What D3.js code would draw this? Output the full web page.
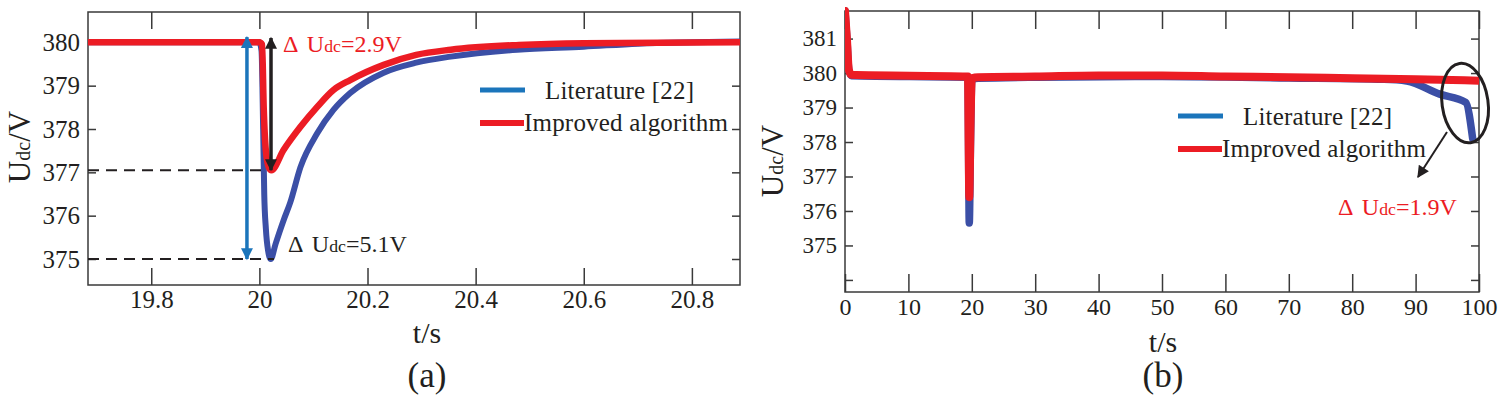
<!DOCTYPE html>
<html><head><meta charset="utf-8">
<script src="https://cdn.jsdelivr.net/npm/d3@7/dist/d3.min.js"></script>
<style>
html,body{margin:0;padding:0;background:#fff;}
svg, svg text{font-family:"Liberation Serif","Times New Roman",serif !important;}
</style></head>
<body>
<svg id="c" width="1500" height="401"></svg>
<script>
// ---------- DATA ----------
// Panel (a): zoom around the load step at t = 20 s
const aLitT = [19.683,20.0,20.004,20.007,20.009,20.012,20.016,20.021,20.03,20.045,20.057,20.076,20.107,20.137,20.168,20.23,20.29,20.354,20.477,20.6,20.7,20.889];
const aLitV = [380.0,380.0,379.8,378.0,376.5,375.7,375.2,375.0,375.35,375.9,376.3,377.12,377.9,378.44,378.83,379.3,379.53,379.67,379.83,379.9,379.97,380.02];
const aImpT = [19.683,20.0,20.005,20.008,20.012,20.018,20.022,20.045,20.076,20.107,20.137,20.168,20.23,20.29,20.354,20.48,20.6,20.889];
const aImpV = [380.0,380.0,379.95,378.5,377.5,377.1,377.05,377.52,378.05,378.51,378.9,379.13,379.48,379.71,379.83,379.94,379.98,380.0];
const aXTicks = [19.8,20,20.2,20.4,20.6,20.8];
const aYTicks = [375,376,377,378,379,380];

// Panel (b): whole 100 s run
const bLitT = [0,0.3,0.6,1,19.4,19.5,19.6,19.8,20,21,30,50,70,85,88.6,93.8,97.9,99.0];
const bLitV = [381.8,381.0,380.1,379.92,379.88,377.5,375.65,378.0,379.8,379.85,379.88,379.9,379.86,379.82,379.77,379.39,379.15,378.1];
const bImpT = [0,0.3,0.6,1,19.4,19.5,19.6,19.8,20,21,30,40,50,60,70,80,90,100];
const bImpV = [381.8,381.0,380.1,379.95,379.9,378.0,376.4,378.5,379.85,379.88,379.9,379.93,379.93,379.9,379.88,379.85,379.82,379.78];
const bXTicks = [0,10,20,30,40,50,60,70,80,90,100];
const bYTicks = [375,376,377,378,379,380,381];
const bYTicksAll = [374,375,376,377,378,379,380,381];

const seriesNames = ["Literature [22]","Improved algorithm"];

// ---------- STYLE ----------
const LIT_DATA = "#3b4fa6", LIT_LEG = "#1b75bb", IMP = "#ec1c24", INK = "#231f20", AX = "#3a3a3a";
const FONT = "'Liberation Serif', 'Times New Roman', serif";

const svg = d3.select("#c");
const defs = svg.append("defs");
function marker(id, color){
  defs.append("marker").attr("id",id).attr("viewBox","0 0 10 10").attr("refX",9).attr("refY",5)
    .attr("markerWidth",14).attr("markerHeight",12).attr("markerUnits","userSpaceOnUse")
    .attr("orient","auto-start-reverse")
    .append("path").attr("d","M0,0 L10,5 L0,10 Z").attr("fill",color);
}
marker("mBlue", LIT_LEG);
marker("mBlack", INK);

function udcText(g, xx, yy, size, color, rest){
  const t = g.append("text").attr("x",xx).attr("y",yy).attr("font-size",size).attr("fill",color).style("font-family",FONT);
  t.append("tspan").text("Δ");
  t.append("tspan").attr("dx",size*0.35).text("U");
  t.append("tspan").attr("font-size",size*0.74).text("dc");
  t.append("tspan").text(rest);
  return t;
}

function panel(o){
  const g = svg.append("g");
  const x = d3.scaleLinear().domain(o.xd).range([o.L,o.R]);
  const y = d3.scaleLinear().domain(o.yd).range([o.B,o.T]);
  const cid = "clip"+o.id;
  defs.append("clipPath").attr("id",cid).append("rect")
    .attr("x",o.L).attr("y",o.T-4).attr("width",o.R-o.L).attr("height",o.B-o.T+4);

  const ax = (a)=>a.attr("font-family",null).call(s=>s.select(".domain").remove())
     .call(s=>s.selectAll("line").attr("stroke",AX).attr("stroke-width",1.5))
     .call(s=>s.selectAll("text").attr("fill",INK).style("font-family",FONT));
  g.append("g").attr("transform",`translate(0,${o.B})`)
    .call(d3.axisBottom(x).tickValues(o.xt).tickFormat(d3.format("~g")).tickSize(-o.xtl).tickSizeOuter(0).tickPadding(o.xpad))
    .attr("font-size",o.xfs).call(ax);
  g.append("g").attr("transform",`translate(0,${o.T})`)
    .call(d3.axisTop(x).tickValues(o.xt).tickFormat("").tickSize(-o.xtl).tickSizeOuter(0))
    .call(ax);
  g.append("g").attr("transform",`translate(${o.L},0)`)
    .call(d3.axisLeft(y).tickValues(o.ytAll).tickFormat(d=>o.yt.includes(d)?d3.format("d")(d):"").tickSize(-8).tickSizeOuter(0).tickPadding(8))
    .attr("font-size",o.yfs).call(ax);
  g.append("g").attr("transform",`translate(${o.R},0)`)
    .call(d3.axisRight(y).tickValues(o.ytAll).tickFormat("").tickSize(-8).tickSizeOuter(0))
    .call(ax);
  g.append("rect").attr("x",o.L).attr("y",o.T).attr("width",o.R-o.L).attr("height",o.B-o.T)
    .attr("fill","none").attr("stroke",AX).attr("stroke-width",1.5);

  const line = d3.line().x(d=>x(d[0])).y(d=>y(d[1])).curve(d3.curveMonotoneX);
  const dg = g.append("g").attr("clip-path",`url(#${cid})`);
  dg.append("path").datum(d3.zip(o.litT,o.litV)).attr("d",line)
    .attr("fill","none").attr("stroke",LIT_DATA).attr("stroke-width",o.lw).attr("stroke-linejoin","round").attr("stroke-linecap","round");
  dg.append("path").datum(d3.zip(o.impT,o.impV)).attr("d",line)
    .attr("fill","none").attr("stroke",IMP).attr("stroke-width",o.lw+0.5).attr("stroke-linejoin","round").attr("stroke-linecap","round");

  // axis titles
  const yt = g.append("text").attr("transform",`translate(${o.ytx},${o.yty}) rotate(-90)`)
    .attr("text-anchor","middle").attr("font-size",31).attr("fill",INK).style("font-family",FONT);
  yt.append("tspan").text("U"); yt.append("tspan").attr("font-size",20).text("dc"); yt.append("tspan").text("/V");
  g.append("text").attr("x",(o.L+o.R)/2+o.xtOff).attr("y",o.xty).attr("text-anchor","middle")
    .attr("font-size",30).attr("fill",INK).style("font-family",FONT).text("t/s");
  g.append("text").attr("x",(o.L+o.R)/2+o.xtOff).attr("y",o.capy).attr("text-anchor","middle")
    .attr("font-size",35).attr("fill",INK).style("font-family",FONT).text(o.cap);

  // legend
  const lg = g.append("g").attr("font-size",25).attr("fill",INK).style("font-family",FONT);
  lg.append("line").attr("x1",o.lgx).attr("x2",o.lgx+45).attr("y1",o.lgy).attr("y2",o.lgy).attr("stroke",LIT_LEG).attr("stroke-width",5);
  lg.append("text").attr("x",o.lgx+65).attr("y",o.lgy+9).attr("textLength",149).text(seriesNames[0]);
  lg.append("line").attr("x1",o.lgx).attr("x2",o.lgx+44).attr("y1",o.lgy+33).attr("y2",o.lgy+33).attr("stroke",IMP).attr("stroke-width",6);
  lg.append("text").attr("x",o.lgx+44).attr("y",o.lgy+41).attr("textLength",204).text(seriesNames[1]);
  return {g,x,y};
}

const A = panel({id:"a", L:88,R:740,T:12,B:285, xd:[19.683,20.889], yd:[374.4,380.7],
  xt:aXTicks, yt:aYTicks, ytAll:aYTicks, xtl:17, xpad:5, xfs:25, yfs:25, lw:6,
  litT:aLitT, litV:aLitV, impT:aImpT, impV:aImpV,
  ytx:30, yty:147, xty:343, xtOff:13, capy:387, cap:"(a)", lgx:480, lgy:90});

const B = panel({id:"b", L:845,R:1479,T:11,B:292, xd:[0,100], yd:[373.65,381.8],
  xt:bXTicks, yt:bYTicks, ytAll:bYTicksAll, xtl:18, xpad:6, xfs:24, yfs:23, lw:7.5,
  litT:bLitT, litV:bLitV, impT:bImpT, impV:bImpV,
  ytx:783, yty:161, xty:352, xtOff:1, capy:387, cap:"(b)", lgx:1178, lgy:116});

// ---------- annotations panel (a) ----------
{
  const {g,x,y} = A;
  const dash = (v, t2) => g.append("line").attr("x1",x(19.683)).attr("x2",x(t2)).attr("y1",y(v)).attr("y2",y(v))
      .attr("stroke",INK).attr("stroke-width",2).attr("stroke-dasharray","11,7");
  dash(377.05, 20.01); dash(375.0, 20.027);
  g.append("line").attr("x1",x(19.977)).attr("x2",x(19.977)).attr("y1",y(380.12)).attr("y2",y(375.0))
    .attr("stroke",LIT_LEG).attr("stroke-width",3.5).attr("marker-start","url(#mBlue)").attr("marker-end","url(#mBlue)");
  g.append("line").attr("x1",x(20.0215)).attr("x2",x(20.0215)).attr("y1",y(380.1)).attr("y2",y(377.05))
    .attr("stroke",INK).attr("stroke-width",3.5).attr("marker-start","url(#mBlack)").attr("marker-end","url(#mBlack)");
  udcText(g, 283, 52, 24, IMP, "=2.9V");
  udcText(g, 288, 252, 24, INK, "=5.1V");
}
// ---------- annotations panel (b) ----------
{
  const {g,x,y} = B;
  const cx = x(97.8), cy = y(379.13);
  g.append("ellipse").attr("cx",cx).attr("cy",cy).attr("rx",23).attr("ry",40)
    .attr("transform",`rotate(-8,${cx},${cy})`).attr("fill","none").attr("stroke",INK).attr("stroke-width",3);
  g.append("line").attr("x1",1447).attr("y1",132).attr("x2",1418).attr("y2",177)
    .attr("stroke",INK).attr("stroke-width",2).attr("marker-end","url(#mBlack)");
  udcText(g, 1338, 215, 24, IMP, "=1.9V");
}
</script>
</body></html>
